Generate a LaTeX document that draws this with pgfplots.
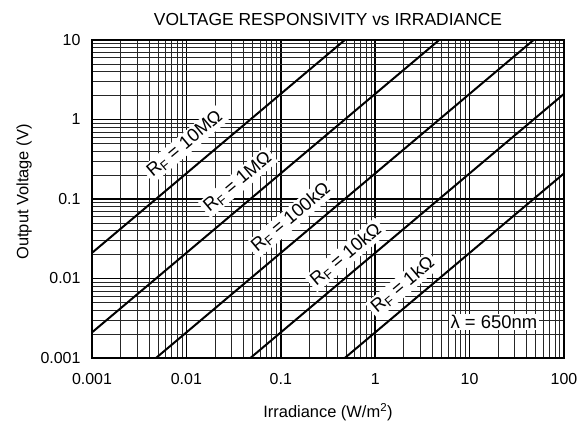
\documentclass[border=0pt]{standalone}
\usepackage{fontspec}
\setmainfont{Liberation Sans}
\usepackage{pgfplots}
\pgfplotsset{compat=1.18}

\pgfplotstableread{
x y10M y1M y100k y10k y1k
0.001 0.021 0.0021 0.00021 0.000021 0.0000021
100 2100 210 21 2.1 0.21
}\curves

\begin{document}
\begin{tikzpicture}
\begin{axis}[
  scale only axis,
  width=472bp, height=318bp,
  xmode=log, ymode=log,
  xmin=0.001, xmax=100, ymin=0.001, ymax=10,
  xtick={0.001,0.01,0.1,1,10,100},
  xticklabels={0.001,0.01,0.1,1,10,100},
  ytick={0.001,0.01,0.1,1,10},
  yticklabels={0.001,0.01,0.1,1,10},
  major tick length=0pt, minor tick length=0pt,
  grid=both,
  major grid style={black, line width=1.5bp},
  minor grid style={black!85, line width=0.6bp},
  axis line style={line width=2.2bp},
  ticklabel style={font=\fontsize{16}{19}\selectfont},
  xticklabel style={yshift=-12bp},
  yticklabel style={xshift=-8bp},
  title={VOLTAGE RESPONSIVITY vs IRRADIANCE},
  title style={font=\fontsize{17.5}{20}\selectfont, yshift=5bp},
  xlabel={Irradiance (W/m\textsuperscript{2})},
  ylabel={Output Voltage (V)},
  label style={font=\fontsize{16.5}{19}\selectfont},
  xlabel style={yshift=-12bp},
  ylabel style={yshift=2bp, xshift=7bp},
]
\addplot[black, line width=2bp] table[x=x, y=y10M] {\curves};
\addplot[black, line width=2bp] table[x=x, y=y1M] {\curves};
\addplot[black, line width=2bp] table[x=x, y=y100k] {\curves};
\addplot[black, line width=2bp] table[x=x, y=y10k] {\curves};
\addplot[black, line width=2bp] table[x=x, y=y1k] {\curves};
\begin{scope}[every node/.style={fill=white, inner xsep=3bp, inner ysep=2bp, rotate=40, font=\fontsize{18.5}{21}\selectfont}]
\node at (axis cs:0.00967,0.49) {R\textsubscript{F} = 10MΩ};
\node at (axis cs:0.0352,0.163) {R\textsubscript{F} = 1MΩ};
\node at (axis cs:0.128,0.0577) {R\textsubscript{F} = 100kΩ};
\node at (axis cs:0.491,0.0198) {R\textsubscript{F} = 10kΩ};
\node at (axis cs:1.97,0.00827) {R\textsubscript{F} = 1kΩ};
\end{scope}
\node[fill=white, inner xsep=2bp, inner ysep=1.5bp, font=\fontsize{18.5}{21}\selectfont] at (axis cs:18.1,0.00284) {λ = 650nm};
\end{axis}
\pgfresetboundingbox
\useasboundingbox (-92bp,-68bp) rectangle (491bp,358bp);
\end{tikzpicture}
\end{document}
